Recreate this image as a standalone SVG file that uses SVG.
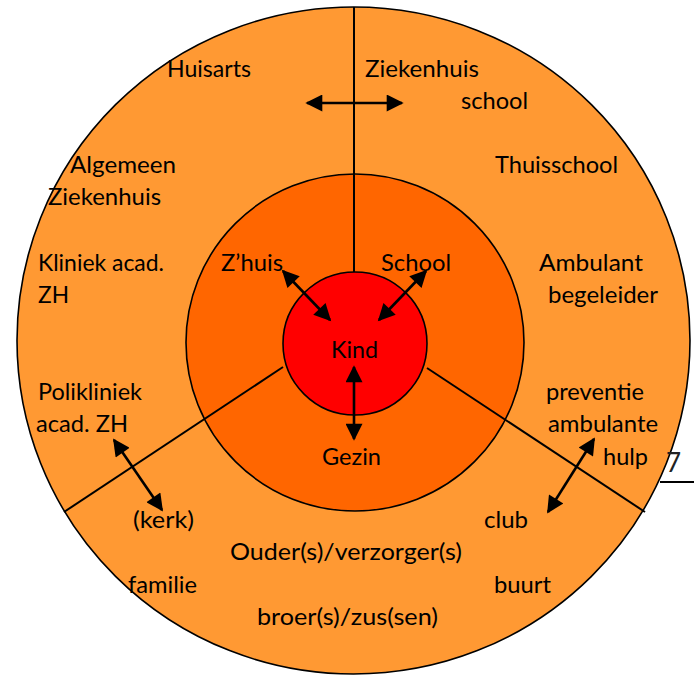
<svg xmlns="http://www.w3.org/2000/svg" width="694" height="676" viewBox="0 0 694 676">
<defs>
<style>
.ring{stroke:#000;stroke-width:1.6}
.div{stroke:#000;stroke-width:2;fill:none}
.arr{stroke:#000;stroke-width:2.6;fill:none;marker-start:url(#ah);marker-end:url(#ah)}
text{font-family:Lato,"Open Sans","Liberation Sans",sans-serif;font-size:23.5px;fill:#000}
</style>
<marker id="ah" viewBox="0 0 10 10" refX="9" refY="5" markerUnits="userSpaceOnUse" markerWidth="20" markerHeight="17" orient="auto-start-reverse">
<path d="M0,0 L10,5 L0,10 z" fill="#000"/>
</marker>
</defs>
<rect width="694" height="676" fill="#fff"/>
<g id="outer">
<ellipse class="ring" cx="353.5" cy="340.5" rx="336.5" ry="333.5" fill="#FF9933"/>
</g>
<g id="middle">
<ellipse class="ring" cx="355" cy="342.5" rx="169" ry="168.5" fill="#FF6600"/>
</g>
<g id="inner">
<ellipse class="ring" cx="355" cy="343.5" rx="72" ry="71.5" fill="#FF0000"/>
</g>
<g id="connectors">
<line class="div" x1="354" y1="7" x2="354" y2="272"/>
<line class="div" x1="283" y1="367" x2="64" y2="512"/>
<line class="div" x1="427" y1="368" x2="645" y2="512"/>
<line class="div" x1="660" y1="482" x2="694" y2="482"/>
<line class="arr" x1="307" y1="103" x2="402" y2="103"/>
<line class="arr" x1="283" y1="271" x2="330" y2="320"/>
<line class="arr" x1="426" y1="271" x2="379" y2="320"/>
<line class="arr" x1="354" y1="367" x2="354" y2="439"/>
<line class="arr" x1="114" y1="440" x2="162" y2="510"/>
<line class="arr" x1="594" y1="439" x2="548" y2="512"/>
</g>
<g id="labels">
<text x="167" y="77" textLength="84" lengthAdjust="spacingAndGlyphs">Huisarts</text>
<text x="365" y="77" textLength="114" lengthAdjust="spacingAndGlyphs">Ziekenhuis</text>
<text x="461" y="109" textLength="67" lengthAdjust="spacingAndGlyphs">school</text>
<text x="495" y="173" textLength="123" lengthAdjust="spacingAndGlyphs">Thuisschool</text>
<text x="70" y="173" textLength="106" lengthAdjust="spacingAndGlyphs">Algemeen</text>
<text x="48" y="205" textLength="113" lengthAdjust="spacingAndGlyphs">Ziekenhuis</text>
<text x="38" y="271" textLength="126" lengthAdjust="spacingAndGlyphs">Kliniek acad.</text>
<text x="38" y="303" textLength="31" lengthAdjust="spacingAndGlyphs">ZH</text>
<text x="221" y="271" textLength="62" lengthAdjust="spacingAndGlyphs">Z’huis</text>
<text x="381" y="271" textLength="70" lengthAdjust="spacingAndGlyphs">School</text>
<text x="539" y="271" textLength="104" lengthAdjust="spacingAndGlyphs">Ambulant</text>
<text x="548" y="303" textLength="110" lengthAdjust="spacingAndGlyphs">begeleider</text>
<text x="331" y="358" textLength="47" lengthAdjust="spacingAndGlyphs">Kind</text>
<text x="38" y="400" textLength="104" lengthAdjust="spacingAndGlyphs">Polikliniek</text>
<text x="36" y="432" textLength="92" lengthAdjust="spacingAndGlyphs">acad. ZH</text>
<text x="546" y="400" textLength="98" lengthAdjust="spacingAndGlyphs">preventie</text>
<text x="548" y="432" textLength="110" lengthAdjust="spacingAndGlyphs">ambulante</text>
<text x="603" y="465" textLength="45" lengthAdjust="spacingAndGlyphs">hulp</text>
<text x="322" y="465" textLength="59" lengthAdjust="spacingAndGlyphs">Gezin</text>
<text x="133" y="528" textLength="61" lengthAdjust="spacingAndGlyphs">(kerk)</text>
<text x="484" y="528" textLength="44" lengthAdjust="spacingAndGlyphs">club</text>
<text x="230" y="560" textLength="232" lengthAdjust="spacingAndGlyphs">Ouder(s)/verzorger(s)</text>
<text x="128" y="593" textLength="69" lengthAdjust="spacingAndGlyphs">familie</text>
<text x="494" y="593" textLength="57" lengthAdjust="spacingAndGlyphs">buurt</text>
<text x="257" y="625" textLength="181" lengthAdjust="spacingAndGlyphs">broer(s)/zus(sen)</text>
<text x="666" y="472" style="font-size:26px;fill:#222">7</text>
</g>
</svg>
